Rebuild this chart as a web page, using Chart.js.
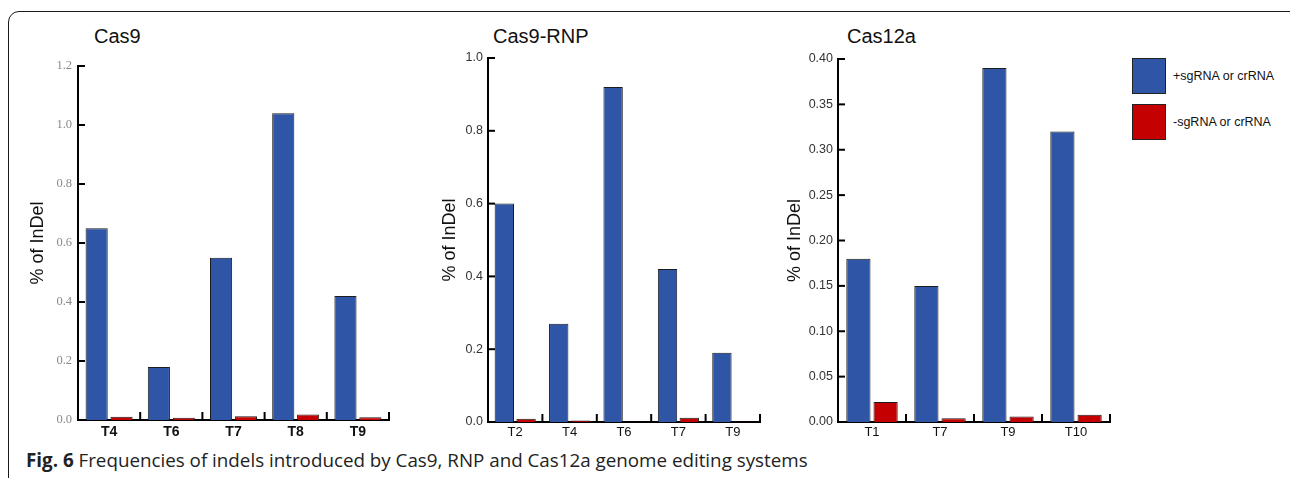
<!DOCTYPE html>
<html>
<head>
<meta charset="utf-8">
<script src="https://cdn.jsdelivr.net/npm/chart.js@4/dist/chart.umd.min.js"></script>
<style>
  html, body { margin: 0; padding: 0; background: #fff; }
  body { width: 1290px; height: 478px; position: relative; overflow: hidden; font-family: "Liberation Sans", Arial, sans-serif; }
  .frame { position: absolute; left: 8px; top: 11px; width: 1300px; height: 520px; border: 1.5px solid #1a1a1a; border-radius: 11px; box-sizing: border-box; }
  .panel { position: absolute; }
  .ptitle { position: absolute; font-size: 20px; line-height: 20px; color: #111; white-space: nowrap; }
  .legend { position: absolute; left: 1132px; top: 58px; font-size: 12.5px; color: #111; }
  .legend .row { position: absolute; left: 0; display: flex; align-items: center; white-space: nowrap; }
  .legend .sw { width: 34px; height: 36px; border: 1px solid #222; margin-right: 7px; box-sizing: border-box; }
  .caption { position: absolute; left: 26px; top: 447px; font-family: "Open Sans", sans-serif; font-size: 18.8px; color: #222; white-space: nowrap; }
</style>
</head>
<body>
<div class="frame"></div>

<div class="ptitle" style="left:94px; top:26px;">Cas9</div>
<div class="ptitle" style="left:493px; top:26px;">Cas9-RNP</div>
<div class="ptitle" style="left:847px; top:26px;">Cas12a</div>

<div class="panel" id="p1"><canvas id="c1"></canvas></div>
<div class="panel" id="p2"><canvas id="c2"></canvas></div>
<div class="panel" id="p3"><canvas id="c3"></canvas></div>

<div class="legend">
  <div class="row" style="top:0;"><div class="sw" style="background:#2F56A6;"></div><span id="lg1"></span></div>
  <div class="row" style="top:46px;"><div class="sw" style="background:#C40000;"></div><span id="lg2"></span></div>
</div>

<div class="caption"><b>Fig. 6</b> Frequencies of indels introduced by Cas9, RNP and Cas12a genome editing systems</div>

<script>
const seriesNames = ["+sgRNA or crRNA", "-sgRNA or crRNA"];
const blueColor = "#2F56A6";
const redColor = "#C40000";

// Cas9
const cas9Targets = ["T4", "T6", "T7", "T8", "T9"];
const cas9Plus = [0.65, 0.18, 0.55, 1.04, 0.42];
const cas9Minus = [0.011, 0.008, 0.013, 0.019, 0.009];

// Cas9-RNP
const rnpTargets = ["T2", "T4", "T6", "T7", "T9"];
const rnpPlus = [0.60, 0.27, 0.92, 0.42, 0.19];
const rnpMinus = [0.009, 0.004, 0.001, 0.012, 0.001];

// Cas12a
const cas12Targets = ["T1", "T7", "T9", "T10"];
const cas12Plus = [0.18, 0.15, 0.39, 0.32];
const cas12Minus = [0.022, 0.004, 0.006, 0.008];

document.getElementById("lg1").textContent = seriesNames[0];
document.getElementById("lg2").textContent = seriesNames[1];

// ticks drawn inward, like the original figure
const innerTicks = {
  id: "innerTicks",
  afterDraw(chart) {
    const ctx = chart.ctx;
    const a = chart.chartArea;
    const xs = chart.scales.x, ys = chart.scales.y;
    ctx.save();
    ctx.fillStyle = "#000";
    for (let i = 1; i < ys.ticks.length; i++) {
      const y = ys.getPixelForTick(i);
      ctx.fillRect(a.left, y - 1, 7, 2);
    }
    const step = xs.getPixelForValue(1) - xs.getPixelForValue(0);
    for (let i = 0; i < xs.ticks.length; i++) {
      const x = xs.getPixelForValue(i) + step / 2;
      ctx.fillRect(x - 1, a.bottom - 8, 2, 8);
    }
    ctx.restore();
  }
};

function makePanel(cfg) {
  const box = document.getElementById(cfg.box);
  box.style.left = cfg.left + "px";
  box.style.top = cfg.top + "px";
  box.style.width = cfg.width + "px";
  box.style.height = cfg.height + "px";

  return new Chart(document.getElementById(cfg.canvas), {
    type: "bar",
    data: {
      labels: cfg.labels,
      datasets: [
        { label: seriesNames[0], data: cfg.plus, backgroundColor: blueColor, borderColor: "#1c1c1c", borderWidth: 1 },
        { label: seriesNames[1], data: cfg.minus, backgroundColor: redColor, borderColor: "#1c1c1c", borderWidth: 1 }
      ]
    },
    options: {
      responsive: true,
      maintainAspectRatio: false,
      animation: false,
      datasets: { bar: { categoryPercentage: 0.8, barPercentage: 0.89 } },
      layout: { padding: { top: cfg.padTop, right: 10, bottom: 0, left: 0 } },
      plugins: { legend: { display: false }, tooltip: { enabled: false } },
      scales: {
        x: {
          grid: { display: false, drawTicks: false },
          border: { color: "#000", width: 2 },
          ticks: { color: "#111", padding: cfg.xPad, font: { family: "Liberation Sans", size: cfg.xSize, weight: cfg.xWeight } },
          afterFit: (s) => { s.height = 24; }
        },
        y: {
          min: 0,
          max: cfg.max,
          grid: { display: false, drawTicks: false },
          border: { color: "#000", width: 2 },
          ticks: {
            stepSize: cfg.step,
            padding: cfg.yPad,
            color: cfg.yColor,
            font: { family: cfg.yFont, size: 12.5 },
            callback: (v) => v.toFixed(cfg.digits)
          },
          title: { display: true, text: "% of InDel", color: "#111", font: { family: "Liberation Sans", size: 18 }, padding: { top: 4, bottom: 0 } },
          afterFit: (s) => { s.width = cfg.yWidth; }
        }
      }
    },
    plugins: [innerTicks]
  });
}

makePanel({
  box: "p1", canvas: "c1", left: 23, top: 40, width: 376, height: 404, padTop: 26,
  labels: cas9Targets, plus: cas9Plus, minus: cas9Minus,
  max: 1.2, step: 0.2, digits: 1, yWidth: 55, yPad: 6,
  yFont: "Liberation Serif", yColor: "#8a8a8a", xSize: 14, xWeight: "bold", xPad: 4
});

makePanel({
  box: "p2", canvas: "c2", left: 435, top: 40, width: 335, height: 406, padTop: 18,
  labels: rnpTargets, plus: rnpPlus, minus: rnpMinus,
  max: 1.0, step: 0.2, digits: 1, yWidth: 53, yPad: 5,
  yFont: "Liberation Sans", yColor: "#333", xSize: 13, xWeight: "normal", xPad: 3
});

makePanel({
  box: "p3", canvas: "c3", left: 780, top: 40, width: 340, height: 406, padTop: 19,
  labels: cas12Targets, plus: cas12Plus, minus: cas12Minus,
  max: 0.40, step: 0.05, digits: 2, yWidth: 58, yPad: 5,
  yFont: "Liberation Sans", yColor: "#333", xSize: 13, xWeight: "normal", xPad: 3
});
</script>
</body>
</html>
